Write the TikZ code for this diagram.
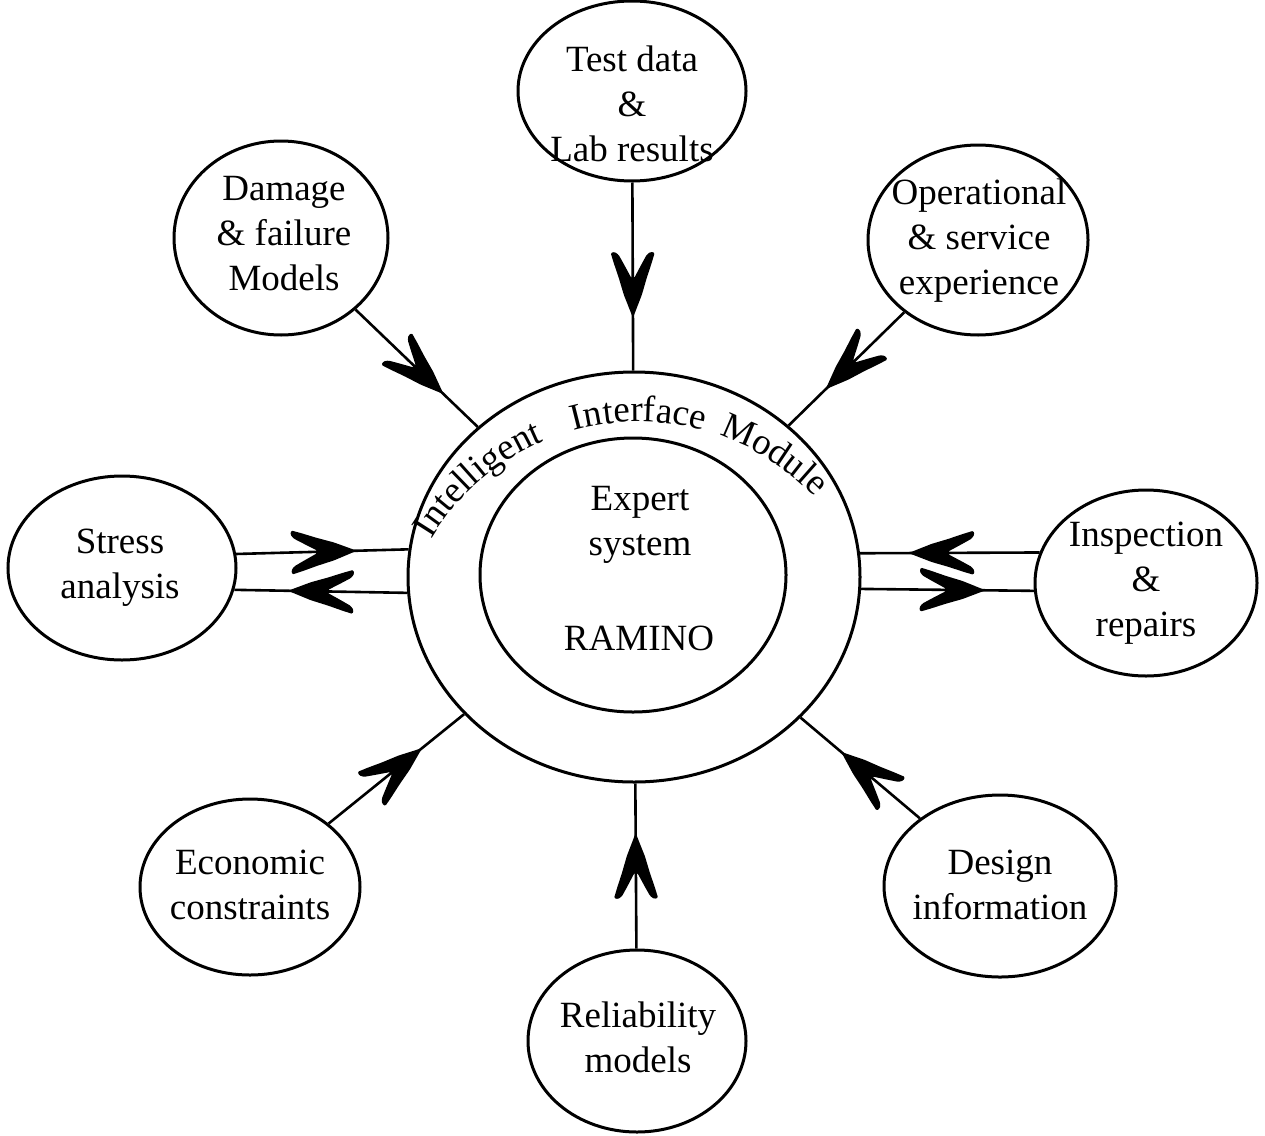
\documentclass[tikz,border=0pt]{standalone}
\usepackage{fontspec}
\setmainfont{Liberation Serif}
\usetikzlibrary{shapes.geometric,decorations.markings,decorations.text}
\newcommand\mychev{\fill[rounded corners=1.2pt] (0pt,0pt) -- (-23pt,9pt) -- (-40pt,14pt) -- (-55pt,19pt) -- (-65pt,22pt) -- (-66pt,18pt) -- (-63pt,14pt) -- (-54pt,9pt) -- (-40pt,1.5pt) -- (-40pt,-1.5pt) -- (-54pt,-9pt) -- (-63pt,-14pt) -- (-66pt,-18pt) -- (-65pt,-22pt) -- (-55pt,-19pt) -- (-40pt,-14pt) -- (-23pt,-9pt) -- cycle;}
\begin{document}
\begin{tikzpicture}[x=1pt,y=1pt,
  sat/.style={ellipse, draw, line width=3pt, inner sep=0pt},
  lbl/.style={align=center, font=\fontsize{37}{45}\selectfont, inner sep=0pt},
  conn/.style={line width=2.6pt},
  midarrow/.style={postaction={decorate, decoration={markings, mark=at position #1 with {\mychev}}}},
  midarrow/.default=0.7]
\useasboundingbox (0,0) rectangle (1265,-1135);
% central circles
\node[sat, minimum width=452pt, minimum height=410pt] (outer) at (634,-577) {};
\node[sat, minimum width=306pt, minimum height=274pt] (inner) at (633,-575) {};
% satellites
\node[sat, minimum width=228pt, minimum height=180pt] (test) at (632,-91) {};
\node[sat, minimum width=214pt, minimum height=194pt] (dmg) at (281,-238) {};
\node[sat, minimum width=220pt, minimum height=190pt] (oper) at (978,-240) {};
\node[sat, minimum width=228pt, minimum height=184pt] (stress) at (122,-568) {};
\node[sat, minimum width=222pt, minimum height=186pt] (insp) at (1146,-583) {};
\node[sat, minimum width=220pt, minimum height=176pt] (econ) at (250,-887) {};
\node[sat, minimum width=218pt, minimum height=182pt] (rel) at (637,-1041) {};
\node[sat, minimum width=232pt, minimum height=182pt] (design) at (1000,-886) {};
% labels
\node[lbl] (ttest) at (632,-104) {Test data\\\&\\Lab results};
\node[lbl] (tdmg) at (284,-234) {Damage\\\& failure\\Models};
\node[lbl] (toper) at (979,-241) {Operational\\\& service\\experience};
\node[lbl] (tstress) at (120,-568) {Stress\\analysis};
\node[lbl] (tinsp) at (1146,-583) {Inspection\\\&\\repairs};
\node[lbl] (tecon) at (250,-885) {Economic\\constraints};
\node[lbl] (trel) at (638,-1037) {Reliability\\models};
\node[lbl] (tdesign) at (1000,-885) {Design\\information};
\node[lbl] (texp) at (640,-525) {Expert\\system};
\node[lbl] (tram) at (639,-638) {RAMINO};
% curved text
\coordinate (arcc) at (638.8,-663.7);
\path[decorate, decoration={text along path, text align=center, text={|\fontsize{37}{45}\selectfont|Intelligent}}] (arcc) ++(150:242pt) arc[start angle=150, end angle=112, radius=242pt];
\path[decorate, decoration={text along path, text align=center, text={|\fontsize{37}{45}\selectfont|Interface}}] (arcc) ++(107:242pt) arc[start angle=107, end angle=73, radius=242pt];
\path[decorate, decoration={text along path, text align=center, text={|\fontsize{37}{45}\selectfont|Module}}] (arcc) ++(72:242pt) arc[start angle=72, end angle=42, radius=242pt];
% connectors
\draw[conn, midarrow=0.72] (test) -- (outer);
\draw[conn, midarrow=0.72] (dmg) -- (outer);
\draw[conn, midarrow=0.68] (oper) -- (outer);
\draw[conn, midarrow=0.69] (econ) -- (outer);
\draw[conn, midarrow=0.66] (design) -- (outer);
\draw[conn, midarrow=0.70] (rel) -- (outer);
\draw[conn, midarrow=0.70] (stress.7.6) -- (outer.173.9);
\draw[conn, midarrow=0.69] (outer.-176.7) -- (stress.-11.2);
\draw[conn, midarrow=0.73] (insp.164.1) -- (outer.6.1);
\draw[conn, midarrow=0.72] (outer.-3.8) -- (insp.184.7);
\end{tikzpicture}
\end{document}
